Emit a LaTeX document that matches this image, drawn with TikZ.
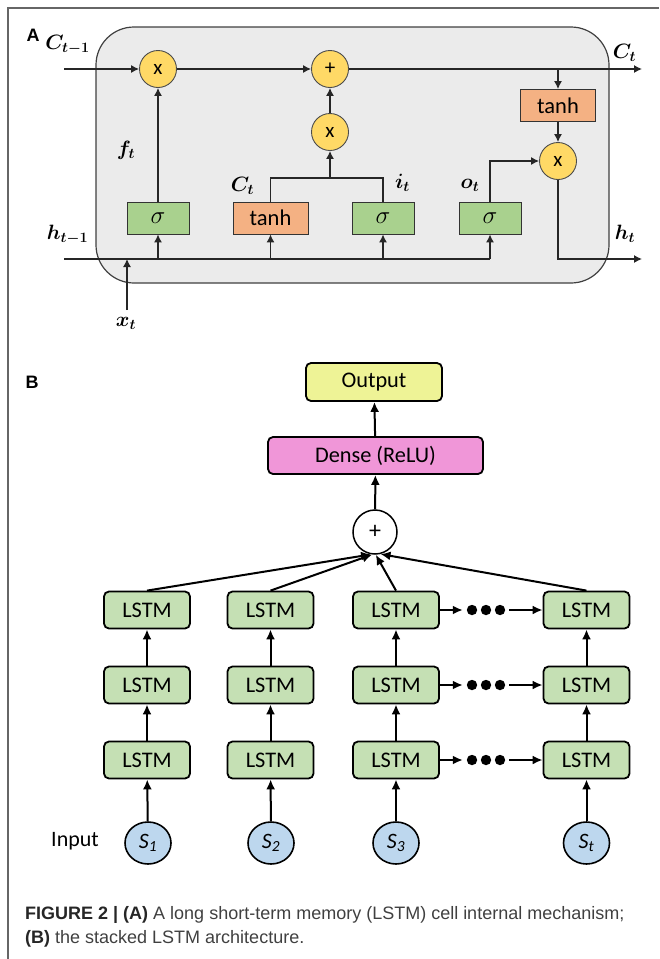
\documentclass[tikz,border=0pt]{standalone}
\usepackage{fontspec}
\usepackage{graphicx}
\usetikzlibrary{arrows.meta,positioning,calc,shapes.geometric}
\newfontfamily\calib{Carlito}
\newfontfamily\helv{Liberation Sans}

\definecolor{cellgray}{HTML}{EBEBEB}
\definecolor{opyellow}{HTML}{FFD966}
\definecolor{gategreen}{HTML}{A9D18E}
\definecolor{actorange}{HTML}{F4B183}
\definecolor{lstmgreen}{HTML}{C5E0B4}
\definecolor{outyellow}{HTML}{EEF396}
\definecolor{densepink}{HTML}{F096D8}
\definecolor{inblue}{HTML}{BDD7EE}
\definecolor{captgray}{HTML}{404040}

\begin{document}
\begin{tikzpicture}[x=1pt, y=-1pt,
    % Style definitions: LSTM cell
    cellbox/.style={rectangle, draw=black!75, fill=cellgray, line width=1.2pt, rounded corners=38pt, minimum width=513pt, minimum height=256pt, inner sep=0pt},
    op/.style={circle, draw=black!70, fill=opyellow, line width=0.9pt, minimum size=37pt, inner sep=0pt, font=\fontsize{21}{21}\selectfont\calib},
    gate/.style={rectangle, draw=black!80, fill=gategreen, line width=0.9pt, minimum width=62pt, minimum height=32pt, inner sep=0pt, font=\fontsize{24}{24}\selectfont},
    act/.style={gate, fill=actorange, minimum width=75pt, font=\fontsize{22.5}{22.5}\selectfont\calib},
    lab/.style={font=\fontsize{22}{22}\selectfont\boldmath},
    wire/.style={line width=1.2pt, draw=black!85},
    arrA/.style={wire, -{Latex[length=8pt,width=8pt]}},
    panel/.style={font=\fontsize{18}{18}\selectfont\helv\bfseries},
    % Style definitions: stacked network
    lstm/.style={rectangle, rounded corners=5pt, draw=black, line width=1.8pt, fill=lstmgreen, minimum width=86pt, minimum height=37pt, inner sep=0pt, font=\fontsize{22.3}{22.3}\selectfont\calib},
    outbox/.style={lstm, fill=outyellow, minimum width=136pt, minimum height=38pt},
    densebox/.style={lstm, fill=densepink, minimum width=215pt},
    sumnode/.style={circle, draw=black, line width=1.5pt, fill=white, minimum size=44pt, inner sep=0pt, font=\fontsize{24}{24}\selectfont\calib},
    inp/.style={ellipse, draw=black, line width=1.6pt, fill=inblue, minimum width=46pt, minimum height=42pt, inner sep=0pt, font=\fontsize{22}{22}\selectfont\calib\itshape},
    gap/.style={inner sep=0pt, minimum width=46pt, minimum height=10pt},
    arrB/.style={line width=2pt, -{Latex[length=10pt,width=9pt]}},
    capt/.style={inner sep=0pt, text=captgray, font=\fontsize{18}{22}\selectfont\helv}
]
\useasboundingbox (0,0) rectangle (659,959);

% Frame
\draw[black!60, line width=1.2pt] (8,959) -- (8,8) -- (659,8);

% ---------------- (A) LSTM cell ----------------
\node[panel] (pa) at (33,35) {A};
\node[cellbox] (cell) at (352.5,155) {};

\node[op] (mulf) at (158,69) {x};
\node[op] (add) at (330,69) {+};
\node[op] (muli) at (330,132) {x};
\node[op] (mulo) at (558,161) {x};

\node[gate] (sigf) at (158,218) {$\sigma$};
\node[act] (tanc) at (270.5,218) {tanh};
\node[gate] (sigi) at (383,218) {$\sigma$};
\node[gate] (sigo) at (490,218) {$\sigma$};
\node[act] (tano) at (558,105.5) {tanh};

\coordinate (cin) at (64,69);
\coordinate (cout) at (642,69);
\coordinate (hin) at (64,259);
\coordinate (hout) at (642,259);
\coordinate (xin) at (127,310);
\coordinate (ij) at (330,178);

% cell state
\draw[arrA] (cin) -- (mulf);
\draw[arrA] (mulf) -- (add);
\draw[arrA] (add) -- (cout);

% gates
\draw[arrA] (sigf) -- (mulf);
\draw[wire] (tanc.north) |- (ij) -| (sigi.north);
\draw[arrA] (ij) -- (muli);
\draw[arrA] (muli) -- (add);
\draw[arrA] (sigo.north) |- (mulo);
\draw[arrA] (tano |- add) -- (tano);
\draw[arrA] (tano) -- (mulo);
\draw[arrA] (mulo) |- (hout);

% hidden state and input
\draw[wire] (hin) -- (hin -| sigo);
\foreach \g in {sigf,tanc,sigi,sigo}
    \draw[arrA] (hin -| \g) -- (\g);
\draw[arrA] (xin) -- (xin |- hin);

% Labels
\node[lab] (lcprev) at (67.5,45) {$C_{t-1}$};
\node[lab] (lhprev) at (67.5,235) {$h_{t-1}$};
\node[lab] (lf) at (126,150) {$f_t$};
\node[lab] (lcand) at (242.5,186) {$C_t$};
\node[lab] (li) at (402.5,183) {$i_t$};
\node[lab] (lo) at (470,185) {$o_t$};
\node[lab] (lc) at (624.5,53) {$C_t$};
\node[lab] (lh) at (625,234) {$h_t$};
\node[lab] (lx) at (126,323) {$x_t$};

% ---------------- (B) stacked LSTM ----------------
\node[panel] (pb) at (32,382) {B};
\node[outbox] (out) at (374,382) {Output};
\node[densebox] (dense) at (375.5,455.5) {Dense (ReLU)};
\node[sumnode] (sum) at (375,532) {+};

\foreach \c/\x in {1/147,2/270.5,3/396,4/586.5}
    \foreach \r/\y in {1/610,2/685,3/760}
        \node[lstm] (l\c\r) at (\x,\y) {LSTM};

\foreach \c/\x/\s in {1/148/1,2/271/2,3/396/3,4/586.5/t}
    \node[inp] (s\c) at (\x,843) {S\textsubscript{\s}};
\node[font=\fontsize{22}{22}\selectfont\calib] (inlabel) at (75,841) {Input};

\foreach \c in {1,...,4} {
    \draw[arrB] (s\c) -- (l\c3);
    \draw[arrB] (l\c3) -- (l\c2);
    \draw[arrB] (l\c2) -- (l\c1);
}

% time steps skipped between columns 3 and 4
\foreach \r/\y in {1/610,2/685,3/760} {
    \node[gap] (k\r) at (486,\y) {};
    \foreach \dx in {-14,0,14}
        \fill ($(k\r)+(\dx,0)$) circle (5.2);
    \draw[arrB] (l3\r) -- (k\r);
    \draw[arrB] (k\r) -- (l4\r);
}

\draw[arrB] (l11.north) -- (sum.260);
\draw[arrB] (l21.north) -- (sum.263);
\draw[arrB] (l31.north) -- (sum.272);
\draw[arrB] (l41.north) -- (sum.284);
\draw[arrB] (sum) -- (dense);
\draw[arrB] (dense) -- (out);

% Caption
\node[capt, anchor=base west] (cap1) at (25,919) {\textbf{\color{black!85}FIGURE 2 | (A)} A long short-term memory (LSTM) cell internal mechanism;};
\node[capt, anchor=base west] (cap2) at (25,943) {\textbf{\color{black!85}(B)} the stacked LSTM architecture.};

\end{tikzpicture}
\end{document}
